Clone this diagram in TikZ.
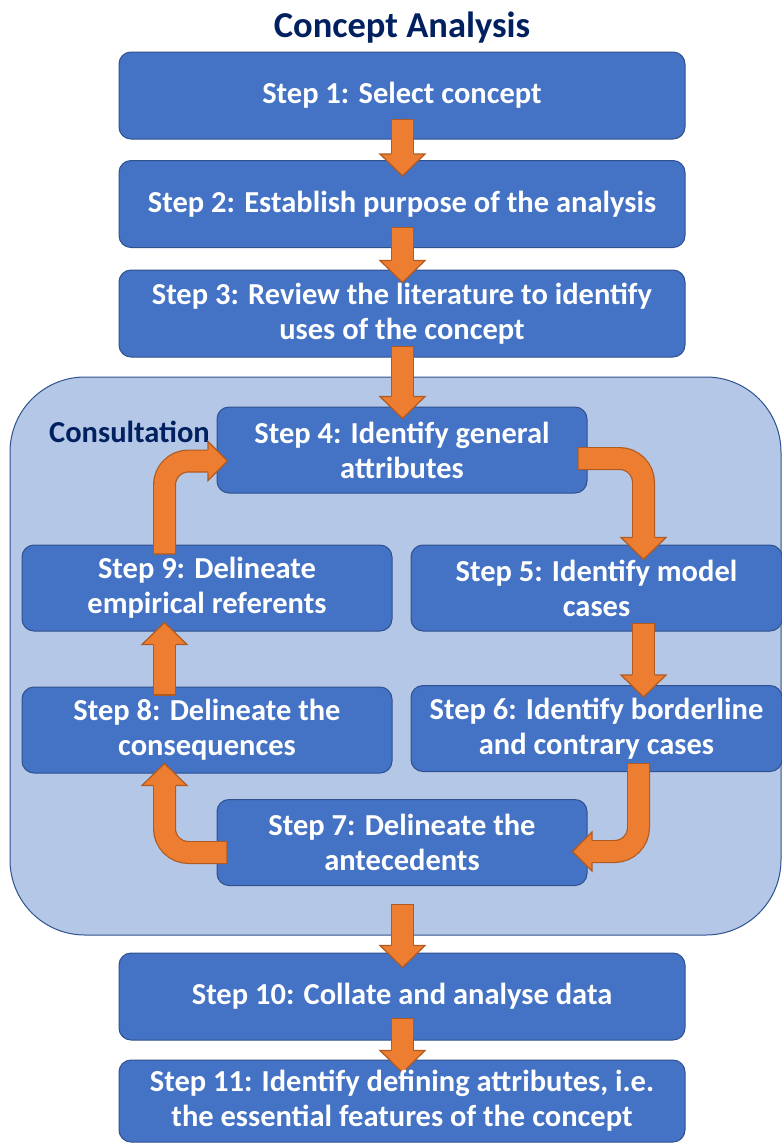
\documentclass[tikz,border=0pt]{standalone}
\usepackage{fontspec}
\setmainfont{Carlito}
\usetikzlibrary{calc}
\definecolor{boxblue}{HTML}{4472C4}
\definecolor{boxline}{HTML}{2F528F}
\definecolor{consfill}{HTML}{B4C7E7}
\definecolor{aorange}{HTML}{ED7D31}
\definecolor{aodark}{HTML}{AE5A21}
\definecolor{navy}{HTML}{002060}
\newcommand\fatpath[1]{\draw[shaftout] #1; \draw[shaftin] #1;}
\tikzset{
  steptext/.style={font=\fontsize{30.5}{35}\selectfont\bfseries, text=white, align=center},
  stepbox/.style={steptext, draw=boxline, line width=1pt, fill=boxblue, rounded corners=12pt, inner sep=0pt},
  wide/.style={minimum width=566pt, minimum height=87pt},
  narrow/.style={minimum width=370pt, minimum height=86pt},
  shaftout/.style={draw=aodark, line width=23pt, rounded corners=24pt},
  shaftin/.style={draw=aorange, line width=20.6pt, rounded corners=24pt, shorten <=1.2pt},
  ahead/.pic={
    \fill[aorange] (0,0) -- (-22,22.5) -- (-22,-22.5) -- cycle;
    \draw[aodark, line width=1.2pt, line join=miter] (-22,11.5) -- (-22,22.5) -- (0,0) -- (-22,-22.5) -- (-22,-11.5);
  },
  aheadsmall/.pic={
    \fill[aorange] (0,0) -- (-19.5,19.5) -- (-19.5,-19.5) -- cycle;
    \draw[aodark, line width=1.2pt, line join=miter] (-19.5,11.5) -- (-19.5,19.5) -- (0,0) -- (-19.5,-19.5) -- (-19.5,-11.5);
  }
}
\begin{document}
\begin{tikzpicture}[x=1pt,y=-1pt]
\useasboundingbox (0,0) rectangle (782,1144);
\fill[white] (0,0) rectangle (782,1144);
\node[font=\fontsize{36.5}{40}\selectfont\bfseries, text=navy] (title) at (402,28) {Concept Analysis};
\node[draw=boxline, line width=1pt, fill=consfill, rounded corners=75pt, minimum width=771pt, minimum height=558pt, inner sep=0pt] (cons) at (395.5,656) {};
\node[font=\fontsize{30.5}{35}\selectfont\bfseries, text=navy, anchor=west, inner sep=0pt] (conslabel) at (49,432) {Consultation};
\node[stepbox, wide] (s1) at (402,95.5) {Step 1: Select concept};
\node[stepbox, wide] (s2) at (402,204) {Step 2: Establish purpose of the analysis};
\node[stepbox, wide] (s3) at (402,313.5) {Step 3: Review the literature to identify\\uses of the concept};
\node[stepbox, narrow] (s4) at (402,450) {Step 4: Identify general\\attributes};
\node[stepbox, narrow, minimum width=371pt] (s5) at (596.5,588) {Step 5: Identify model\\cases};
\node[stepbox, narrow, minimum width=371pt] (s6) at (596.5,728.5) {Step 6: Identify borderline\\and contrary cases};
\node[stepbox, narrow] (s7) at (402,842.5) {Step 7: Delineate the\\antecedents};
\node[stepbox, narrow] (s8) at (207,730) {Step 8: Delineate the\\consequences};
\node[stepbox, narrow] (s9) at (207,588) {Step 9: Delineate\\empirical referents};
\node[stepbox, wide] (s10) at (402,996.5) {Step 10: Collate and analyse data};
\node[stepbox, wide, minimum height=82pt] (s11) at (402,1101) {};
% straight arrows
\fatpath{($(s1.south)+(0.5,-21)$) -- ($(s2.north)+(0.5,-5)$)}
\pic[rotate=-90] at ($(s2.north)+(0.5,16)$) {ahead};
\fatpath{($(s2.south)+(0.5,-21)$) -- ($(s3.north)+(0.5,-8)$)}
\pic[rotate=-90] at ($(s3.north)+(0.5,13)$) {ahead};
\fatpath{($(s3.south)+(0.5,-12)$) -- ($(s4.north)+(0.5,-9)$)}
\pic[rotate=-90] at ($(s4.north)+(0.5,12)$) {ahead};
\fatpath{($(cons.south)+(7,-32)$) -- ($(s10.north)+(0.5,-6)$)}
\pic[rotate=-90] at ($(s10.north)+(0.5,15)$) {ahead};
\fatpath{($(s10.south)+(0.5,-23)$) -- ($(s11.north)+(0.5,-8)$)}
\pic[rotate=-90] at ($(s11.north)+(0.5,13)$) {ahead};
% cycle arrows
\fatpath{($(s4.east)+(-10,8.5)$) -| ($(s5.north)+(47,-6)$)}
\pic[rotate=-90] at ($(s5.north)+(47,15)$) {ahead};
\fatpath{($(s5.south)+(47,-9)$) -- ($(s6.north)+(47,-9)$)}
\pic[rotate=-90] at ($(s6.north)+(47,12)$) {ahead};
\fatpath{($(s6.south)+(42,-9)$) |- ($(s7.east)+(4,9)$)}
\pic[rotate=180] at ($(s7.east)+(-15,9)$) {aheadsmall};
\fatpath{($(s7.west)+(11,10)$) -| ($(s8.south)+(-42.5,11)$)}
\pic[rotate=90] at ($(s8.south)+(-42.5,-10)$) {ahead};
\fatpath{($(s8.north)+(-42.5,9)$) -- ($(s9.south)+(-42.5,12)$)}
\pic[rotate=90] at ($(s9.south)+(-42.5,-9)$) {ahead};
\fatpath{($(s9.north)+(-42.5,10)$) |- ($(s4.west)+(-8,11)$)}
\pic at ($(s4.west)+(11,11)$) {aheadsmall};
% text of last box over its arrow
\node[steptext] (s11t) at (s11.center) {Step 11: Identify defining attributes, i.e.\\the essential features of the concept};
\end{tikzpicture}
\end{document}
